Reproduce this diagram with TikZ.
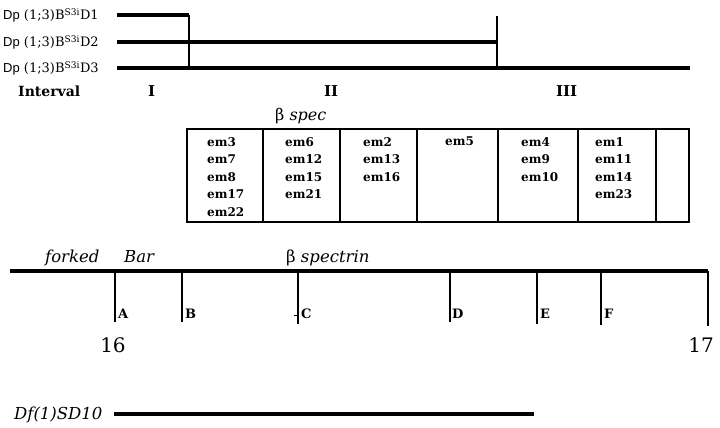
\documentclass[tikz,border=0pt]{standalone}
\usepackage{fontspec}
\setmainfont{DejaVu Serif}
\setsansfont{Liberation Sans}
\usepackage{tikz}
\usetikzlibrary{positioning}
\tikzset{
  dupline/.style={line width=3.5pt},
  stem/.style={line width=1.2pt},
  cell/.style={line width=1.2pt},
  emlist/.style={anchor=north west,align=left,inner sep=0pt,font=\fontsize{12}{17.5}\selectfont\bfseries},
  dplabel/.style={anchor=base west,inner sep=0pt,font=\fontsize{13}{15}\selectfont},
  band/.style={anchor=base west,inner sep=0pt,font=\fontsize{14}{16}\selectfont\bfseries},
  ticklabel/.style={anchor=base west,inner sep=0pt,font=\fontsize{13}{15}\selectfont\bfseries},
  genelabel/.style={anchor=base west,inner sep=0pt,font=\fontsize{16.5}{18}\selectfont\itshape},
}
\begin{document}
\begin{tikzpicture}[x=1pt,y=-1pt]
        \useasboundingbox (0,0) rectangle (720,428);
        % duplications
        \coordinate (d1s) at (117,15);
        \coordinate (d1e) at (189,15);
        \coordinate (d2s) at (117,42);
        \coordinate (d2e) at (497,42);
        \coordinate (d3s) at (117,68);
        \coordinate (d3e) at (690,68);
        \coordinate (b1) at (189,68);
        \coordinate (b2t) at (497,16);
        \coordinate (b2) at (497,68);

        \node[dplabel] (dp1) at (3,20) {\textsf{Dp} (1;3)B\textsuperscript{S3i}D1};
        \node[dplabel] (dp2) at (3,47) {\textsf{Dp} (1;3)B\textsuperscript{S3i}D2};
        \node[dplabel] (dp3) at (3,73) {\textsf{Dp} (1;3)B\textsuperscript{S3i}D3};
        \draw[dupline] (d1s) -- (d1e);
        \draw[dupline] (d2s) -- (d2e);
        \draw[dupline] (d3s) -- (d3e);
        \draw[stem] (d1e) -- (b1);
        \draw[stem] (b2t) -- (b2);

        % intervals
        \node[band] (interval) at (18,96) {Interval};
        \node[band,font=\fontsize{15}{17}\selectfont\bfseries] (int1) at (148,96) {I};
        \node[band,font=\fontsize{15}{17}\selectfont\bfseries] (int2) at (324,96) {II};
        \node[band,font=\fontsize{15}{17}\selectfont\bfseries] (int3) at (556,96) {III};

        % complementation groups
        \node[dplabel,font=\fontsize{16}{18}\selectfont] (bspec) at (275,120) {β \textit{spec}};
        \draw[cell] (187,129) rectangle (689,222);
        \foreach \x in {263,340,417,498,578,656}
          \draw[cell] (\x,129) -- (\x,222);
        \node[emlist] (g1) at (207,137) {em3\\em7\\em8\\em17\\em22};
        \node[emlist] (g2) at (285,137) {em6\\em12\\em15\\em21};
        \node[emlist] (g3) at (363,137) {em2\\em13\\em16};
        \node[emlist] (g4) at (445,137) {em5};
        \node[emlist] (g5) at (521,137) {em4\\em9\\em10};
        \node[emlist] (g6) at (595,137) {em1\\em11\\em14\\em23};

        % chromosome map
        \coordinate (cl) at (10,271);
        \coordinate (cr) at (708,271);
        \coordinate (tA) at (115,271);
        \coordinate (tB) at (182,271);
        \coordinate (tC) at (298,271);
        \coordinate (tD) at (450,271);
        \coordinate (tE) at (537,271);
        \coordinate (tF) at (601,271);
        \coordinate (eA) at (115,322);
        \coordinate (eB) at (182,322);
        \coordinate (eC) at (298,324);
        \coordinate (eD) at (450,322);
        \coordinate (eE) at (537,324);
        \coordinate (eF) at (601,325);
        \coordinate (e17) at (708,326);
        \coordinate (cm) at (294,315);

        \node[genelabel] (forked) at (45,262) {forked};
        \node[genelabel] (bar) at (124,262) {Bar};
        \node[genelabel] (spectrin) at (286,262) {\upshape β \itshape spectrin};
        \draw[dupline] (cl) -- (cr);
        \draw[line width=2.5pt] (tA) -- (eA);
        \draw[stem] (tB) -- (eB);
        \draw[stem] (tC) -- (eC);
        \draw[stem] (tD) -- (eD);
        \draw[stem] (tE) -- (eE);
        \draw[stem] (tF) -- (eF);
        \draw[line width=2.5pt] (cr) -- (e17);
        \draw[line width=0.6pt] (cm) -- (tC |- cm);
        \node[ticklabel] (lA) at (118,318) {A};
        \node[ticklabel] (lB) at (185,318) {B};
        \node[ticklabel] (lC) at (301,318) {C};
        \node[ticklabel] (lD) at (452,318) {D};
        \node[ticklabel] (lE) at (540,318) {E};
        \node[ticklabel] (lF) at (604,318) {F};
        \node[font=\fontsize{20}{22}\selectfont] (n16) at (113,345) {16};
        \node[font=\fontsize{20}{22}\selectfont] (n17) at (701,345) {17};

        % deficiency
        \coordinate (dfs) at (114,414);
        \coordinate (dfe) at (534,414);
        \node[genelabel] (df) at (14,419) {Df(1)SD10};
        \draw[dupline] (dfs) -- (dfe);
\end{tikzpicture}
\end{document}
